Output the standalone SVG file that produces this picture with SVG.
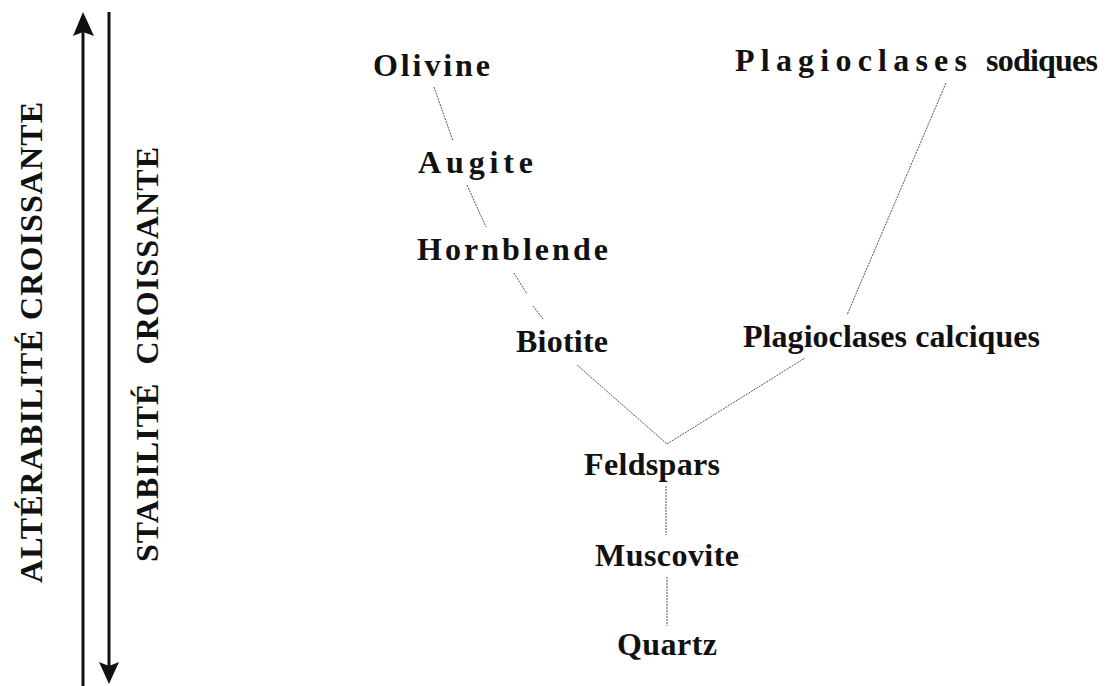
<svg xmlns="http://www.w3.org/2000/svg" width="1112" height="686" viewBox="0 0 1112 686">
<style>
.lbl{font-family:"Liberation Serif","Times New Roman",serif;font-weight:bold;font-size:32px;fill:#111}
.ax{font-family:"Liberation Serif","Times New Roman",serif;font-weight:bold;font-size:32px;fill:#111}
.con{stroke:#555;stroke-width:1;fill:none;stroke-dasharray:2 1}
.axl{stroke:#111;stroke-width:3;fill:none}
</style>
<rect width="1112" height="686" fill="#fff"/>
<g id="axes">
<line class="axl" x1="83" y1="30" x2="83" y2="686"/>
<path d="M83,12 L94,36 L83,32 L73,36 Z" fill="#111"/>
<line class="axl" x1="109" y1="12" x2="109" y2="666"/>
<path d="M109,684 L119,662 L109,666 L99,662 Z" fill="#111"/>
<text class="ax" transform="translate(42,583) rotate(-90)" textLength="481" lengthAdjust="spacing">ALTÉRABILITÉ CROISSANTE</text>
<text class="ax" transform="translate(158,562) rotate(-90)" textLength="415" lengthAdjust="spacing" xml:space="preserve">STABILITÉ  CROISSANTE</text>
</g>
<g id="connectors">
<line class="con" x1="434" y1="87" x2="453" y2="141"/>
<line class="con" x1="467" y1="185" x2="486" y2="227"/>
<line class="con" x1="514" y1="273" x2="527" y2="294"/>
<line class="con" x1="533" y1="306" x2="543" y2="319"/>
<line class="con" x1="577" y1="365" x2="667" y2="444"/>
<line class="con" x1="667" y1="444" x2="805" y2="358"/>
<line class="con" x1="946" y1="83" x2="847" y2="315"/>
<line class="con" x1="666" y1="486" x2="666" y2="535"/>
<line class="con" x1="667" y1="577" x2="667" y2="626"/>
</g>
<g id="olivine"><text class="lbl" x="373" y="76" textLength="117" lengthAdjust="spacing">Olivine</text></g>
<g id="augite"><text class="lbl" x="418" y="173" textLength="115" lengthAdjust="spacing">Augite</text></g>
<g id="hornblende"><text class="lbl" x="417" y="260" textLength="191" lengthAdjust="spacing">Hornblende</text></g>
<g id="biotite"><text class="lbl" x="516" y="352" textLength="92" lengthAdjust="spacing">Biotite</text></g>
<g id="plagioclases-sodiques"><text class="lbl" x="735" y="71" textLength="232" lengthAdjust="spacing">Plagioclases</text><text class="lbl" x="986" y="71" textLength="112" lengthAdjust="spacing">sodiques</text></g>
<g id="plagioclases-calciques"><text class="lbl" x="743" y="347" textLength="297" lengthAdjust="spacing">Plagioclases calciques</text></g>
<g id="feldspars"><text class="lbl" x="584" y="475" textLength="136" lengthAdjust="spacing">Feldspars</text></g>
<g id="muscovite"><text class="lbl" x="595" y="566" textLength="144" lengthAdjust="spacing">Muscovite</text></g>
<g id="quartz"><text class="lbl" x="617" y="655" textLength="100" lengthAdjust="spacing">Quartz</text></g>
</svg>
